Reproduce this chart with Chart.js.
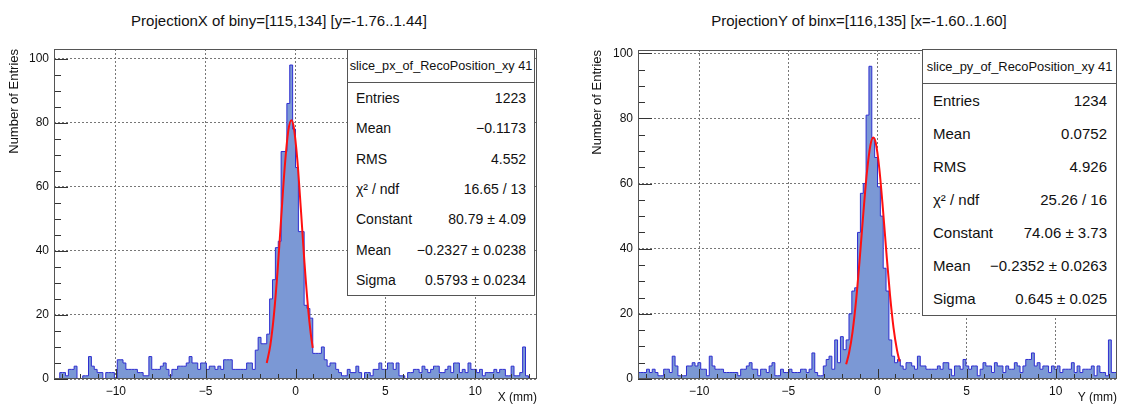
<!DOCTYPE html>
<html>
<head>
<meta charset="utf-8">
<script src="https://cdn.jsdelivr.net/npm/chart.js@4.4.1/dist/chart.umd.min.js"></script>
<style>
  body { margin: 0; background: #fff; font-family: "Liberation Sans", Arial, sans-serif; color: #111; }
  #wrap { position: relative; width: 1121px; height: 408px; overflow: hidden; }
  canvas { position: absolute; top: 0; }
  .title { position: absolute; top: 12px; font-size: 15px; line-height: 18px; white-space: nowrap; transform: translateX(-50%); }
  .stats { position: absolute; background: #fff; border: 1px solid #555; box-sizing: border-box; }
  .stats .head { border-bottom: 1px solid #555; box-sizing: border-box; display: flex; align-items: center; justify-content: center; white-space: nowrap; }
  .stats .row { display: flex; justify-content: space-between; align-items: center; white-space: nowrap; box-sizing: border-box; }
</style>
</head>
<body>
<div id="wrap">
  <div class="title" style="left:279px">ProjectionX of biny=[115,134] [y=-1.76..1.44]</div>
  <div class="title" style="left:859px">ProjectionY of binx=[116,135] [x=-1.60..1.60]</div>
  <canvas id="chartX" width="560" height="408" style="left:0"></canvas>
  <canvas id="chartY" width="561" height="408" style="left:560px"></canvas>
  <div class="stats" id="statsX"></div>
  <div class="stats" id="statsY"></div>
</div>
<script>
// histogram binning (0.16 mm bins, shown range -13.44..13.44)
const binLow = -13.44;
const binWidth = 0.16;

// axis ticks
const xMajor = [-10, -5, 0, 5, 10];
const xTickText = ['\u221210', '\u22125', '0', '5', '10'];
const yMajor = [0, 20, 40, 60, 80, 100];
const yTickText = ['0', '20', '40', '60', '80', '100'];

// counts per bin
const countsX = [
  0, 0, 0, 2, 2, 1, 3, 3, 4, 0,
  0, 1, 1, 7, 4, 3, 2, 2, 0, 2,
  2, 2, 0, 6, 6, 5, 3, 3, 3, 3,
  2, 2, 1, 1, 7, 3, 3, 3, 4, 5,
  3, 1, 3, 3, 4, 4, 4, 5, 7, 5,
  5, 3, 5, 5, 3, 4, 4, 3, 4, 3,
  6, 6, 6, 3, 3, 3, 3, 3, 5, 5,
  3,
  9, 13, 11, 11, 14, 25, 31, 41, 43, 71, 71, 86, 98, 78, 66, 46, 46, 23, 22, 19, 8, 8, 8, 10,
  6, 4, 5, 5, 3, 2, 1, 1, 3, 2,
  2, 4, 2, 0, 2, 2, 1, 3, 3, 5,
  3, 3, 5, 5, 3, 5, 1, 1, 0, 2,
  2, 3, 3, 2, 4, 3, 2, 3, 4, 4,
  2, 2, 3, 4, 2, 5, 5, 2, 3, 2,
  5, 3, 3, 2, 3, 1, 2, 2, 2, 3,
  2, 3, 3, 1, 1, 4, 1, 1, 2, 10,
  1, 0, 0
];
const countsY = [
  16, 2, 2, 2, 3, 2, 3, 2, 1, 1,
  3, 3, 2, 7, 4, 1, 1, 1, 4, 4,
  5, 4, 5, 3, 3, 1, 7, 4, 3, 3,
  3, 2, 2, 2, 2, 2, 1, 3, 3, 4,
  5, 3, 3, 1, 3, 3, 2, 4, 5, 1,
  1, 3, 2, 2, 3, 2, 2, 2, 3, 3,
  2, 3, 8, 2, 1, 1,
  4, 6, 7, 3, 12, 5, 13, 9, 12, 20, 27, 28, 45, 57, 60, 81, 96, 74, 68, 59, 50, 34, 27, 12, 7, 5, 6, 4,
  3, 5, 5, 4, 3, 7, 4, 4, 3, 3,
  3, 3, 4, 3, 5, 5, 3, 1, 4, 4,
  3, 6, 4, 3, 4, 4, 1, 3, 5, 4,
  4, 2, 5, 4, 4, 2, 4, 3, 3, 5,
  4, 2, 4, 6, 6, 8, 4, 5, 3, 4,
  4, 2, 4, 3, 4, 2, 3, 3, 3, 5,
  2, 4, 2, 3, 3, 3, 4, 1, 4, 2,
  2, 1, 12, 2
];

// gaussian fit curves
const fitXPos = [-1.6, -1.4, -1.2, -1.0, -0.8, -0.6, -0.4, -0.23, -0.1, 0.1, 0.3, 0.5, 0.7, 0.85, 0.96];
const fitXVal = [5.0, 10.6, 20.1, 33.6, 50.0, 66.1, 77.5, 80.8, 78.7, 68.5, 52.9, 36.3, 22.1, 14.1, 9.7];
const fitYPos = [-1.76, -1.6, -1.4, -1.2, -1.0, -0.8, -0.6, -0.4, -0.24, -0.1, 0.1, 0.3, 0.5, 0.7, 0.9, 1.1, 1.24];
const fitYVal = [4.5, 7.9, 14.5, 24.2, 36.7, 50.5, 63.1, 71.7, 74.1, 72.5, 64.7, 52.5, 38.7, 25.9, 15.7, 8.7, 5.4];

// stats boxes
const statsNames = ['Entries', 'Mean', 'RMS', '\u03c7\u00b2 / ndf', 'Constant', 'Mean', 'Sigma'];
const statsValsX = ['1223', '\u22120.1173', '4.552', '16.65 / 13', '80.79 \u00b1 4.09', '\u22120.2327 \u00b1 0.0238', '0.5793 \u00b1 0.0234'];
const statsValsY = ['1234', '0.0752', '4.926', '25.26 / 16', '74.06 \u00b1 3.73', '\u22120.2352 \u00b1 0.0263', '0.645 \u00b1 0.025'];

Chart.defaults.font.family = '"Liberation Sans", Arial, sans-serif';
Chart.defaults.color = '#111';

function histPoints(counts) {
  const pts = counts.map((c, i) => ({ x: binLow + i * binWidth, y: c }));
  pts.push({ x: binLow + counts.length * binWidth, y: counts[counts.length - 1] });
  return pts;
}

// ROOT-like frame with inner tick marks
const rootFrame = {
  id: 'rootFrame',
  afterDatasetsDraw(chart) {
    const { ctx, chartArea: a, scales: { x, y } } = chart;
    ctx.save();
    ctx.strokeStyle = '#333';
    ctx.lineWidth = 1;
    ctx.setLineDash([]);
    ctx.beginPath();
    x.ticks.forEach(t => {
      const px = Math.round(x.getPixelForValue(t.value)) + 0.5;
      const len = xMajor.includes(t.value) ? 10 : 5;
      ctx.moveTo(px, a.bottom);
      ctx.lineTo(px, a.bottom - len);
    });
    y.ticks.forEach(t => {
      const py = Math.round(y.getPixelForValue(t.value)) + 0.5;
      const len = yMajor.includes(t.value) ? 14 : 7;
      ctx.moveTo(a.left, py);
      ctx.lineTo(a.left + len, py);
    });
    ctx.stroke();
    ctx.strokeStyle = '#555';
    ctx.strokeRect(a.left + 0.5, a.top + 0.5, a.right - a.left - 1, a.bottom - a.top - 1);
    ctx.restore();
  }
};

function makeChart(id, p) {
  return new Chart(document.getElementById(id), {
    type: 'line',
    data: {
      datasets: [
        {
          data: p.fitPos.map((v, i) => ({ x: v, y: p.fitVal[i] })),
          borderColor: '#ff1010',
          borderWidth: 2,
          pointRadius: 0,
          cubicInterpolationMode: 'monotone',
          fill: false,
          order: 0
        },
        {
          data: histPoints(p.counts),
          stepped: 'after',
          borderColor: '#2e2ed0',
          borderWidth: 1,
          backgroundColor: '#7b98d5',
          fill: 'origin',
          pointRadius: 0,
          order: 1
        }
      ]
    },
    options: {
      responsive: false,
      animation: false,
      devicePixelRatio: 1,
      layout: { padding: { left: 0, right: p.padRight, top: p.padTop, bottom: 0 } },
      plugins: { legend: { display: false }, tooltip: { enabled: false } },
      scales: {
        x: {
          type: 'linear',
          min: binLow,
          max: -binLow,
          afterFit: s => { s.height = 29; },
          border: { display: false, dash: [2, 2] },
          grid: {
            drawTicks: false,
            color: c => xMajor.includes(c.tick.value) ? '#777' : 'rgba(0,0,0,0)'
          },
          ticks: {
            stepSize: 1,
            includeBounds: false,
            autoSkip: false,
            maxRotation: 0,
            padding: 5,
            font: { size: 12 },
            callback: v => xMajor.includes(v) ? xTickText[xMajor.indexOf(v)] : ''
          },
          title: {
            display: true,
            text: p.xTitle,
            align: 'end',
            font: { size: 12 },
            padding: { top: 0, bottom: 3 }
          }
        },
        y: {
          min: 0,
          max: p.yMax,
          afterFit: s => { s.width = p.yWidth; },
          border: { display: false, dash: [2, 2] },
          grid: {
            drawTicks: false,
            color: c => yMajor.includes(c.tick.value) ? '#777' : 'rgba(0,0,0,0)'
          },
          ticks: {
            stepSize: 5,
            includeBounds: false,
            autoSkip: false,
            padding: 5,
            font: { size: 12 },
            callback: v => yMajor.includes(v) ? yTickText[yMajor.indexOf(v)] : ''
          },
          title: {
            display: true,
            text: 'Number of Entries',
            align: 'end',
            font: { size: 13 },
            padding: { top: p.yTitlePad, bottom: 0 }
          }
        }
      }
    },
    plugins: [rootFrame]
  });
}

makeChart('chartX', { counts: countsX, fitPos: fitXPos, fitVal: fitXVal, yMax: 103, yWidth: 54, padRight: 23, padTop: 49, yTitlePad: 7, xTitle: 'X (mm)' });
makeChart('chartY', { counts: countsY, fitPos: fitYPos, fitVal: fitYVal, yMax: 101, yWidth: 78, padRight: 4, padTop: 50, yTitlePad: 30, xTitle: 'Y (mm)' });

function buildStats(id, header, vals, box) {
  const el = document.getElementById(id);
  el.style.left = box.left + 'px';
  el.style.top = box.top + 'px';
  el.style.width = box.width + 'px';
  el.style.height = box.height + 'px';
  const head = document.createElement('div');
  head.className = 'head';
  head.style.height = box.head + 'px';
  head.style.fontSize = box.headFont + 'px';
  head.textContent = header;
  el.appendChild(head);
  const rowH = (box.height - box.head - 2) / statsNames.length;
  statsNames.forEach((n, i) => {
    const r = document.createElement('div');
    r.className = 'row';
    r.style.height = rowH + 'px';
    r.style.fontSize = box.font + 'px';
    r.style.padding = '0 ' + box.padR + 'px 0 ' + box.padL + 'px';
    const a = document.createElement('span');
    a.textContent = n;
    const b = document.createElement('span');
    b.textContent = vals[i];
    r.appendChild(a);
    r.appendChild(b);
    el.appendChild(r);
  });
}

buildStats('statsX', 'slice_px_of_RecoPosition_xy 41', statsValsX,
  { left: 347, top: 49, width: 188, height: 247, head: 33, headFont: 12.7, font: 14, padL: 8, padR: 8 });
buildStats('statsY', 'slice_py_of_RecoPosition_xy 41', statsValsY,
  { left: 922, top: 49, width: 195, height: 267, head: 34, headFont: 12.9, font: 15, padL: 10, padR: 9 });
</script>
</body>
</html>
